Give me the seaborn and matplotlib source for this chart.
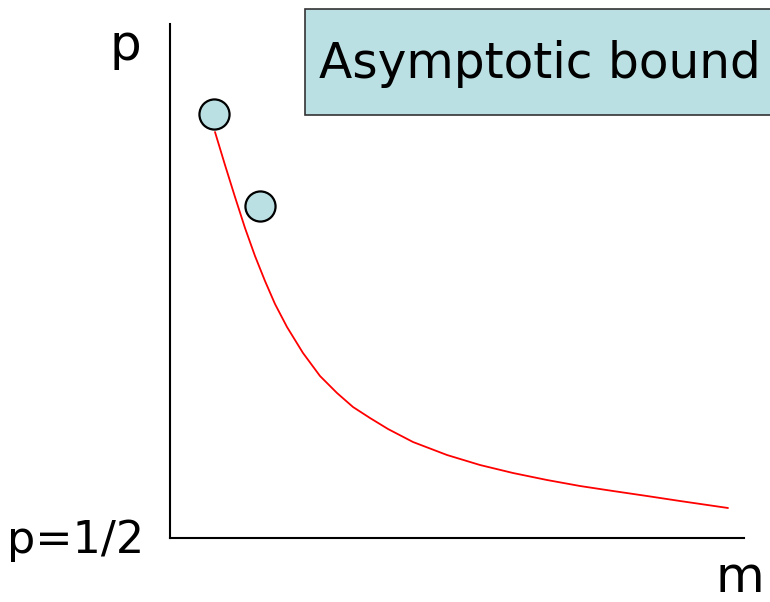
import matplotlib
matplotlib.use("Agg")
import matplotlib.pyplot as plt
from matplotlib.patches import Rectangle
import pandas as pd
import seaborn as sns

# red bound curve (arbitrary units)
curve_m = [45, 55, 65, 75, 85, 95, 105, 117, 133, 150, 167, 183, 200, 218,
           243, 277, 310, 343, 377, 410, 443, 477, 510, 558]
curve_p = [406, 373, 341, 310, 282, 257, 234, 211, 185, 162, 145, 131, 120,
           109, 96, 83, 73, 65, 58, 52, 47, 42, 37, 30]

# the two circles
point_m = [44, 90]
point_p = [424, 332]

box_label = "Asymptotic bound"
y_label = "p"
x_label = "m"
y_base = "p=1/2"

sns.set_style("white")
plt.rcParams['font.family'] = ['DejaVu Sans']
plt.rcParams['text.color'] = 'black'

fig = plt.figure(figsize=(7.7, 6.02), dpi=100)
ax = fig.add_axes([170 / 770, (602 - 538) / 602, 574 / 770, 514 / 602])

curve = pd.DataFrame({"m": curve_m, "p": curve_p})
pts = pd.DataFrame({"m": point_m, "p": point_p})

sns.lineplot(data=curve, x="m", y="p", color="red", linewidth=1.3, ax=ax)
sns.scatterplot(data=pts, x="m", y="p", s=470, color="#bbe0e3",
                edgecolor="black", linewidth=1.6, ax=ax, zorder=3)

ax.set_xlim(0, 574)
ax.set_ylim(0, 514)
ax.set_xticks([])
ax.set_yticks([])
ax.set_xlabel("")
ax.set_ylabel("")
sns.despine(ax=ax)
for s in ["left", "bottom"]:
    ax.spines[s].set_color("black")
    ax.spines[s].set_linewidth(1.5)

fig.text(125 / 770, 1 - 46 / 602, y_label, fontsize=36, ha="center", va="center")
fig.text(76 / 770, 1 - 540 / 602, y_base, fontsize=32, ha="center", va="center")
fig.text(740 / 770, 1 - 578 / 602, x_label, fontsize=36, ha="center", va="center")

fig.patches.append(Rectangle((305 / 770, 1 - 115 / 602), 470 / 770, 106 / 602,
                             transform=fig.transFigure, facecolor="#bbe0e3",
                             edgecolor="#333333", linewidth=1.2))
fig.text(540 / 770, 1 - 64 / 602, box_label, fontsize=35, ha="center", va="center")

plt.savefig("out.png", dpi=100)
